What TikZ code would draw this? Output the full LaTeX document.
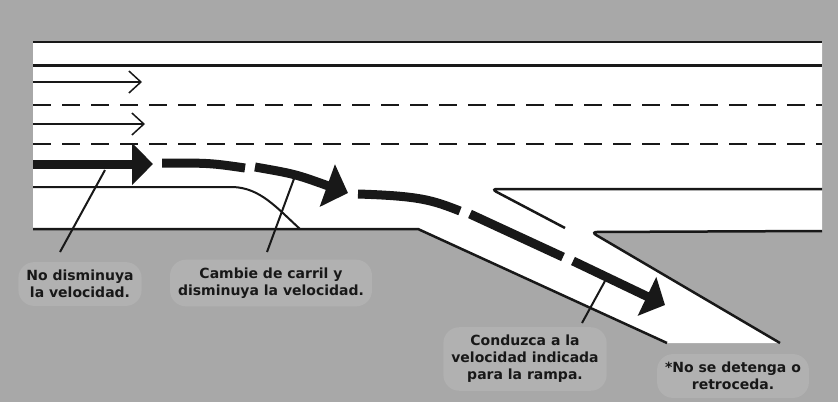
\documentclass[tikz,border=0pt]{standalone}
\usepackage{fontspec}
\setmainfont{DejaVu Sans}
\usetikzlibrary{arrows.meta}
\definecolor{asphalt}{RGB}{168,168,168}
\definecolor{cloud}{RGB}{177,177,177}
\definecolor{ink}{RGB}{24,24,24}
\tikzset{
	edge/.style={line width=2.5pt, color=ink},
	lane/.style={line width=2.5pt, color=ink, dash pattern=on 18pt off 11pt},
	flow/.style={line width=9pt, color=ink},
	thinflow/.style={line width=1.5pt, color=ink, -{Straight Barb[length=12pt,width=22pt]}},
	leader/.style={line width=2pt, color=ink},
	note/.style={font=\bfseries\fontsize{14}{17}\selectfont, text=ink, align=center, fill=cloud, rounded corners=16pt, inner sep=8pt}
}

\begin{document}
\begin{tikzpicture}[x=1pt, y=-1pt]
			%%%%% START %%%%%
			
			\useasboundingbox (0, 0) rectangle (838, 402);
			\fill[asphalt] (0, 0) rectangle (838, 402);
			
			% road surface and ramp
			\fill[white] (33, 42) -- (822, 42) -- (822, 231) -- (592, 232) -- (780, 343) -- (667, 343) -- (418, 229) -- (33, 229) -- cycle;
			
			\draw[edge] (33, 42) -- (822, 42);
			\draw[edge, line width=3pt] (33, 65) -- (822, 65);
			\draw[lane] (33, 105) -- (822, 105);
			\draw[lane] (33, 144) -- (822, 144);
			
			\draw[thinflow] (33, 82) -- (142, 82);
			\draw[thinflow] (33, 124) -- (145, 124);
			
			% shoulder and exit edges
			\draw[edge, line width=2pt] (33, 187) -- (233, 187) .. controls (260, 188) and (276, 207) .. (300, 229);
			\draw[edge] (33, 229) -- (418, 229) -- (667, 343);
			\draw[edge, rounded corners=6pt] (565, 228) -- (491, 189) -- (822, 189);
			\draw[edge, rounded corners=6pt] (822, 231) -- (591, 232) -- (780, 343);
			
			% path of the exiting car
			\draw[flow, -{Triangle[length=21pt, width=41pt]}] (33, 164) -- (153, 164);
			\draw[flow] (162, 163) .. controls (210, 163) .. (245, 168);
			\draw[flow, -{Triangle[length=22pt, width=44pt]}] (255, 167) .. controls (295, 174) .. (348, 193);
			\draw[flow] (358, 194) .. controls (420, 196) and (432, 200) .. (460, 211);
			\draw[flow] (470, 214) -- (563, 257);
			\draw[flow, -{Triangle[length=20pt, width=42pt]}] (573, 261) -- (665, 305);
			
			% labels
			\node[note] (keep) at (80, 284) {No disminuya\\la velocidad.};
			\node[note] (change) at (271, 283) {Cambie de carril y\\disminuya la velocidad.};
			\node[note] (ramp) at (525, 359) {Conduzca a la\\velocidad indicada\\para la rampa.};
			\node[note] (stop) at (733, 376) {*No se detenga o\\retroceda.};
			
			\coordinate (keeptop) at (105, 170);
			\coordinate (keepend) at (60, 252);
			\coordinate (changetop) at (295, 176);
			\coordinate (changeend) at (267, 252);
			\coordinate (ramptop) at (605, 281);
			\coordinate (rampend) at (582, 323);
			\draw[leader] (keeptop) -- (keepend);
			\draw[leader] (changetop) -- (changeend);
			\draw[leader] (ramptop) -- (rampend);
			
			%%%%% END %%%%%
\end{tikzpicture}
\end{document}
